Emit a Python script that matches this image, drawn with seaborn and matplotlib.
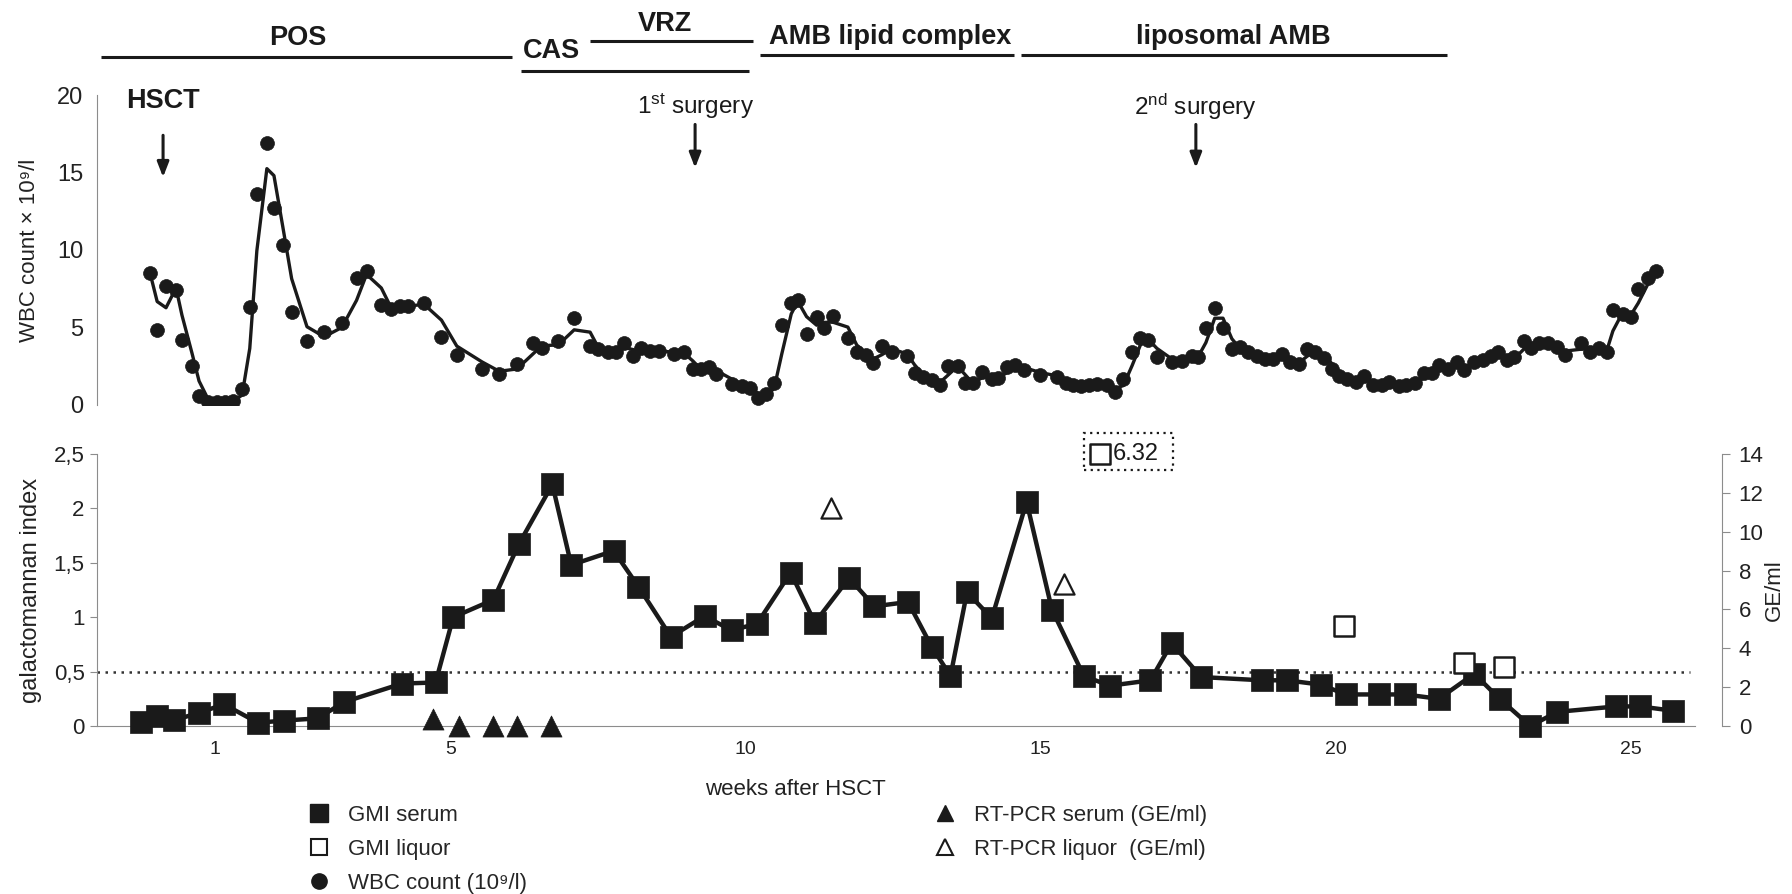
import numpy as np
import pandas as pd
import matplotlib
matplotlib.use("Agg")
import matplotlib.pyplot as plt
from matplotlib.lines import Line2D
from matplotlib.patches import Rectangle
import seaborn as sns

# ---- data ----
wbc_week = [-0.1, 0.02, 0.17, 0.34, 0.44, 0.61, 0.73, 0.88, 1.03, 1.17, 1.3, 1.46, 1.59, 1.71, 1.88, 2.0,
            2.15, 2.3, 2.56, 2.85, 3.15, 3.4, 3.57, 3.82, 3.98, 4.13, 4.27, 4.55, 4.84, 5.1, 5.53, 5.82,
            6.12, 6.4, 6.54, 6.82, 7.09, 7.36, 7.5, 7.67, 7.8, 7.94, 8.09, 8.22, 8.38, 8.53, 8.78, 8.95,
            9.1, 9.24, 9.37, 9.5, 9.76, 9.93, 10.07, 10.2, 10.34, 10.48, 10.61, 10.77, 10.88, 11.03, 11.2,
            11.32, 11.47, 11.73, 11.88, 12.03, 12.15, 12.31, 12.47, 12.73, 12.86, 13.01, 13.15, 13.29,
            13.42, 13.59, 13.72, 13.85, 14.01, 14.17, 14.28, 14.43, 14.57, 14.71, 14.99, 15.28, 15.42,
            15.55, 15.69, 15.82, 15.96, 16.13, 16.26, 16.4, 16.55, 16.69, 16.82, 16.97, 17.23, 17.4,
            17.57, 17.67, 17.8, 17.95, 18.09, 18.24, 18.37, 18.52, 18.67, 18.8, 18.94, 19.09, 19.23,
            19.38, 19.51, 19.65, 19.81, 19.94, 20.05, 20.2, 20.35, 20.48, 20.63, 20.78, 20.91, 21.08,
            21.2, 21.34, 21.5, 21.64, 21.76, 21.9, 22.05, 22.18, 22.34, 22.49, 22.63, 22.76, 22.9, 23.03,
            23.19, 23.32, 23.45, 23.6, 23.75, 23.88, 24.16, 24.32, 24.47, 24.6, 24.7, 24.87, 25.0,
            25.13, 25.3, 25.43]
wbc_count = [8.5, 4.85, 7.7, 7.4, 4.2, 2.5, 0.6, 0.2, 0.17, 0.17, 0.28, 1.0, 6.3, 13.6, 16.9, 12.7,
             10.3, 6.0, 4.1, 4.7, 5.3, 8.2, 8.65, 6.45, 6.2, 6.4, 6.4, 6.55, 4.4, 3.2, 2.35, 2.0,
             2.65, 4.0, 3.65, 4.1, 5.6, 3.8, 3.6, 3.4, 3.4, 4.0, 3.15, 3.7, 3.5, 3.5, 3.3, 3.4,
             2.3, 2.3, 2.45, 2.0, 1.35, 1.2, 1.1, 0.43, 0.7, 1.45, 5.15, 6.6, 6.8, 4.6, 5.7,
             4.95, 5.75, 4.3, 3.45, 3.2, 2.7, 3.8, 3.45, 3.15, 2.05, 1.8, 1.6, 1.3,
             2.5, 2.5, 1.4, 1.4, 2.15, 1.7, 1.75, 2.45, 2.6, 2.25, 1.95, 1.8, 1.4,
             1.3, 1.2, 1.3, 1.35, 1.3, 0.85, 1.65, 3.45, 4.3, 4.2, 3.1, 2.8, 2.85,
             3.15, 3.1, 4.95, 6.25, 4.95, 3.6, 3.75, 3.45, 3.15, 2.95, 2.95, 3.3, 2.8,
             2.65, 3.6, 3.45, 3.0, 2.3, 1.85, 1.7, 1.5, 1.85, 1.3, 1.3, 1.5, 1.2,
             1.3, 1.45, 2.05, 2.05, 2.6, 2.35, 2.8, 2.25, 2.8, 2.9, 3.15, 3.4, 2.9, 3.1,
             4.1, 3.65, 4.0, 4.0, 3.75, 3.2, 4.0, 3.4, 3.65, 3.45, 6.1, 5.9, 5.65,
             7.5, 8.2, 8.65]

gmi_serum_week = [-0.26, 0.02, 0.31, 0.73, 1.15, 1.73, 2.17, 2.74, 3.19, 4.17, 4.74, 5.04, 5.72, 6.15,
                  6.72, 7.04, 7.76, 8.18, 8.73, 9.3, 9.76, 10.19, 10.76, 11.17, 11.75, 12.18, 12.75,
                  13.15, 13.47, 13.75, 14.17, 14.76, 15.19, 15.73, 16.17, 16.86, 17.22, 17.72, 18.75,
                  19.17, 19.75, 20.17, 20.73, 21.18, 21.75, 22.35, 22.78, 23.3, 23.76, 24.76, 25.16, 25.72]
gmi_serum = [0.04, 0.09, 0.055, 0.12, 0.2, 0.03, 0.05, 0.07, 0.22, 0.39, 0.4, 1.0, 1.16, 1.67,
             2.22, 1.48, 1.61, 1.28, 0.82, 1.01, 0.88, 0.94, 1.41, 0.95, 1.36, 1.1, 1.14,
             0.73, 0.46, 1.23, 0.99, 2.06, 1.07, 0.46, 0.37, 0.42, 0.76, 0.45, 0.42,
             0.42, 0.38, 0.29, 0.29, 0.29, 0.25, 0.48, 0.25, 0.0, 0.13, 0.18, 0.18, 0.14]

gmi_liquor_week = [20.14, 22.17, 22.86]
gmi_liquor = [0.92, 0.58, 0.54]
offscale_week = 16.0
offscale_value = 6.32

pcr_serum_week = [4.7, 5.14, 5.72, 6.12, 6.69]
pcr_serum = [0.35, 0.0, 0.0, 0.0, 0.0]
pcr_liquor_week = [11.44, 15.39]
pcr_liquor = [11.2, 7.3]

drugs = ["POS", "CAS", "VRZ", "AMB lipid complex", "liposomal AMB"]
drug_start = [-0.93, 6.19, 7.36, 10.24, 14.66]
drug_end = [6.03, 10.05, 10.12, 14.54, 21.88]
drug_line_y = [22.45, 21.55, 23.5, 22.6, 22.6]
drug_text_x = [2.41, 6.71, 8.63, 12.44, 18.27]
drug_text_y = [23.7, 22.85, 24.6, 23.75, 23.75]

events = ["HSCT", "1$^{\\mathrm{st}}$ surgery", "2$^{\\mathrm{nd}}$ surgery"]
event_week = [0.12, 9.14, 17.63]
event_bold = [True, False, False]

dark = "#1a1a1a"
grey = "#8c8c8c"

sns.set_style("white")
plt.rcParams["font.family"] = ["Liberation Sans", "DejaVu Sans"]
plt.rcParams["mathtext.fontset"] = "custom"
plt.rcParams["mathtext.rm"] = "Liberation Sans"
plt.rcParams["mathtext.it"] = "Liberation Sans:italic"
plt.rcParams["mathtext.bf"] = "Liberation Sans:bold"

wbc = pd.DataFrame({"week": wbc_week, "wbc": wbc_count})
wbc["avg"] = wbc["wbc"].rolling(2, min_periods=1).mean()
gmi = pd.DataFrame({"week": gmi_serum_week, "gmi": gmi_serum})

W, H = 1792, 894
fig = plt.figure(figsize=(W / 100, H / 100), dpi=100)
ax_top = fig.add_axes([97 / W, 1 - 405 / H, 1625 / W, 310 / H])
ax_bot = fig.add_axes([97 / W, 1 - 726 / H, 1625 / W, 272 / H])
ax_ge = ax_bot.twinx()

xlim = (-1, 26.55)

# ---- upper panel: WBC ----
sns.lineplot(data=wbc, x="week", y="avg", ax=ax_top, color=dark, linewidth=2.4, sort=False)
sns.scatterplot(data=wbc, x="week", y="wbc", ax=ax_top, color=dark, s=100, edgecolor=dark,
                linewidth=0.5, zorder=3)
ax_top.set_xlim(*xlim)
ax_top.set_ylim(0, 20)
ax_top.set_yticks([0, 5, 10, 15, 20])
ax_top.set_xticks([])
ax_top.set_xlabel("")
for s in ["top", "right", "bottom"]:
    ax_top.spines[s].set_visible(False)
ax_top.spines["left"].set_color(grey)
ax_top.tick_params(axis="y", direction="out", length=5, color=grey, labelsize=17, pad=5,
                   labelcolor="#222222")
ax_top.set_ylabel("WBC count × 10⁹/l", fontsize=16, color="#222222")
ax_top.yaxis.set_label_coords(-0.035, 0.5)

# treatment bars and labels above the plot
for name, a, b, ly, tx, ty in zip(drugs, drug_start, drug_end, drug_line_y, drug_text_x, drug_text_y):
    ax_top.hlines(ly, a, b, color=dark, linewidth=2.2, clip_on=False)
    ax_top.text(tx, ty, name, ha="center", va="center", fontsize=19.5, fontweight="bold", color=dark)

for name, wk, bold in zip(events, event_week, event_bold):
    ax_top.text(wk, 19.6 if bold else 19.25, name, ha="center", va="center",
                fontsize=19.5 if bold else 17.5,
                fontweight="bold" if bold else "normal", color=dark)
    top, tip = (17.4, 14.7) if bold else (18.1, 15.3)
    ax_top.annotate("", xy=(wk, tip), xytext=(wk, top),
                    arrowprops=dict(arrowstyle="-|>,head_width=0.35,head_length=0.9",
                                    color=dark, lw=2.2, shrinkA=0, shrinkB=0))

# ---- lower panel: galactomannan & RT-PCR ----
ax_bot.hlines(0.5, -1, 26.0, color="#333333", linestyle=(0, (1, 2.2)), linewidth=1.8)
sns.lineplot(data=gmi, x="week", y="gmi", ax=ax_bot, color=dark, linewidth=3.2, sort=False)
sns.scatterplot(data=gmi, x="week", y="gmi", ax=ax_bot, marker="s", s=240, color=dark,
                edgecolor=dark, linewidth=0.5, zorder=3, clip_on=False)
sns.scatterplot(x=gmi_liquor_week, y=gmi_liquor, ax=ax_bot, marker="s", s=200, color="white",
                edgecolor=dark, linewidth=1.8, zorder=3)

# off-scale liquor value, shown at the top edge
ax_bot.scatter([offscale_week], [2.5], marker="s", s=200, facecolor="white", edgecolor=dark,
               linewidth=1.8, zorder=4, clip_on=False)
ax_bot.text(offscale_week + 0.22, 2.5, f"{offscale_value:.2f}", ha="left", va="center",
            fontsize=17, color=dark)
ax_bot.add_patch(Rectangle((offscale_week - 0.27, 2.35), 1.52, 0.34, fill=False, edgecolor=dark,
                           linestyle=(0, (1, 2)), linewidth=1.6, clip_on=False))

sns.scatterplot(x=pcr_serum_week, y=pcr_serum, ax=ax_ge, marker="^", s=230, color=dark,
                edgecolor=dark, linewidth=0.5, zorder=3, clip_on=False)
sns.scatterplot(x=pcr_liquor_week, y=pcr_liquor, ax=ax_ge, marker="^", s=210, color="white",
                edgecolor=dark, linewidth=1.6, zorder=3)

ax_bot.set_xlim(*xlim)
ax_ge.set_xlim(*xlim)
ax_bot.set_ylim(0, 2.5)
ax_ge.set_ylim(0, 14)
ax_bot.set_yticks([0, 0.5, 1, 1.5, 2, 2.5])
ax_bot.set_yticklabels(["0", "0,5", "1", "1,5", "2", "2,5"])
ax_ge.set_yticks(range(0, 15, 2))
ticks = list(range(0, 27))
ax_bot.set_xticks(ticks)
ax_bot.set_xticklabels([str(t) if t in (1, 5, 10, 15, 20, 25) else "" for t in ticks])

for a in (ax_bot, ax_ge):
    a.spines["top"].set_visible(False)
    for s in ["left", "right", "bottom"]:
        a.spines[s].set_color(grey)
ax_bot.spines["right"].set_visible(False)
ax_ge.spines["left"].set_visible(False)
ax_ge.spines["bottom"].set_visible(False)
ax_bot.spines["bottom"].set_bounds(-1, 26.1)
ax_bot.tick_params(axis="y", direction="out", length=5, color=grey, labelsize=16, pad=4,
                   labelcolor="#222222")
ax_bot.tick_params(axis="x", direction="out", length=5, color=grey, labelsize=14, pad=6,
                   labelcolor="#222222")
ax_ge.tick_params(axis="y", direction="out", length=6, color=grey, labelsize=16, pad=6,
                  labelcolor="#222222")
ax_bot.set_ylabel("galactomannan index", fontsize=17, color="#222222")
ax_bot.yaxis.set_label_coords(-0.034, 0.5)
ax_ge.set_ylabel("GE/ml", fontsize=16, color="#222222")
ax_ge.yaxis.set_label_coords(1.026, 0.5)
ax_bot.set_xlabel("weeks after HSCT", fontsize=16, color="#222222")
ax_bot.xaxis.set_label_coords(0.43, -0.195)

# ---- legend ----
h1 = [Line2D([], [], marker="s", ls="none", color=dark, ms=13),
      Line2D([], [], marker="s", ls="none", mfc="white", mec=dark, mew=1.5, ms=11),
      Line2D([], [], marker="o", ls="none", color=dark, ms=11)]
l1 = ["GMI serum", "GMI liquor", "WBC count (10⁹/l)"]
h2 = [Line2D([], [], marker="^", ls="none", color=dark, ms=12),
      Line2D([], [], marker="^", ls="none", mfc="white", mec=dark, mew=1.5, ms=12)]
l2 = ["RT-PCR serum (GE/ml)", "RT-PCR liquor  (GE/ml)"]
for h, l, x in ((h1, l1, 0.172), (h2, l2, 0.521)):
    fig.legend(h, l, loc="upper left", bbox_to_anchor=(x, 0.1), frameon=False, fontsize=16,
               handlelength=1.0, handletextpad=0.8, labelspacing=0.6, borderpad=0,
               borderaxespad=0)

fig.savefig("out.png", dpi=100)
